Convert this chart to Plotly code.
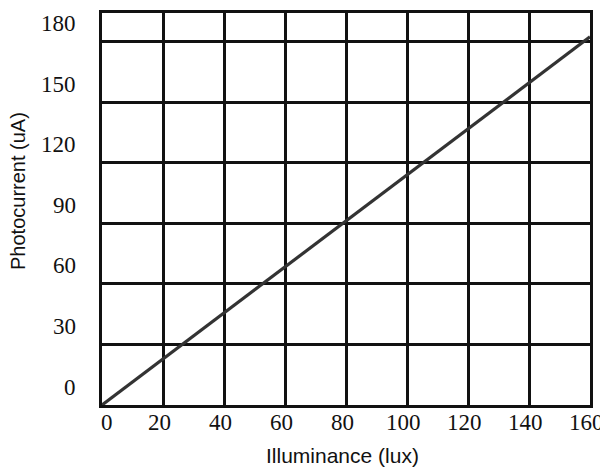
import plotly.graph_objects as go

# Data
illuminance = [0, 160]
photocurrent = [0, 182.5]
x_ticks = [0, 20, 40, 60, 80, 100, 120, 140, 160]
x_tick_labels = ["0", "20", "40", "60", "80", "100", "120", "140", "160"]
y_ticks = [0, 30, 60, 90, 120, 150, 180]
y_tick_labels = ["0", "30", "60", "90", "120", "150", "180"]

fig = go.Figure()
fig.add_trace(go.Scatter(x=illuminance, y=photocurrent, mode="lines",
                         line=dict(color="#333333", width=3.2), showlegend=False,
                         cliponaxis=False))

serif = dict(family="Liberation Serif", size=23, color="#111111")

for v, t in zip(y_ticks, y_tick_labels):
    fig.add_annotation(x=0, xref="paper", y=v, yref="y", text=t, showarrow=False,
                       xanchor="right", yanchor="middle", xshift=-24, yshift=18,
                       font=serif)

for v, t in zip(x_ticks, x_tick_labels):
    fig.add_annotation(x=v, xref="x", y=0, yref="paper", text=t, showarrow=False,
                       xanchor="center", yanchor="middle",
                       xshift=(5 if v == 0 else -4), yshift=-17, font=serif)

fig.add_annotation(x=0, xref="paper", y=0.5, yref="paper", text="Photocurrent (uA)",
                   textangle=-90, showarrow=False, xanchor="center", yanchor="middle",
                   xshift=-84, yshift=18,
                   font=dict(family="Liberation Sans", size=20, color="#111111"))
fig.add_annotation(x=0.5, xref="paper", y=0, yref="paper", text="Illuminance (lux)",
                   showarrow=False, xanchor="center", yanchor="middle",
                   xshift=-4, yshift=-50,
                   font=dict(family="Liberation Sans", size=21, color="#111111"))

fig.update_xaxes(range=[0, 160], tickvals=x_ticks, showgrid=True, gridcolor="#111111",
                 gridwidth=3, showline=True, linecolor="#111111", linewidth=3, mirror=True,
                 zeroline=False, ticks="", showticklabels=False)
fig.update_yaxes(range=[0, 194.3], tickvals=y_ticks, showgrid=True, gridcolor="#111111",
                 gridwidth=3, showline=True, linecolor="#111111", linewidth=3, mirror=True,
                 zeroline=False, ticks="", showticklabels=False)

# page body has an 8px margin, so the figure is placed at (8, 8)
fig.update_layout(width=600, height=463, margin=dict(l=94, r=18, t=2, b=66),
                  plot_bgcolor="white", paper_bgcolor="white")

fig.write_html("out.html")
